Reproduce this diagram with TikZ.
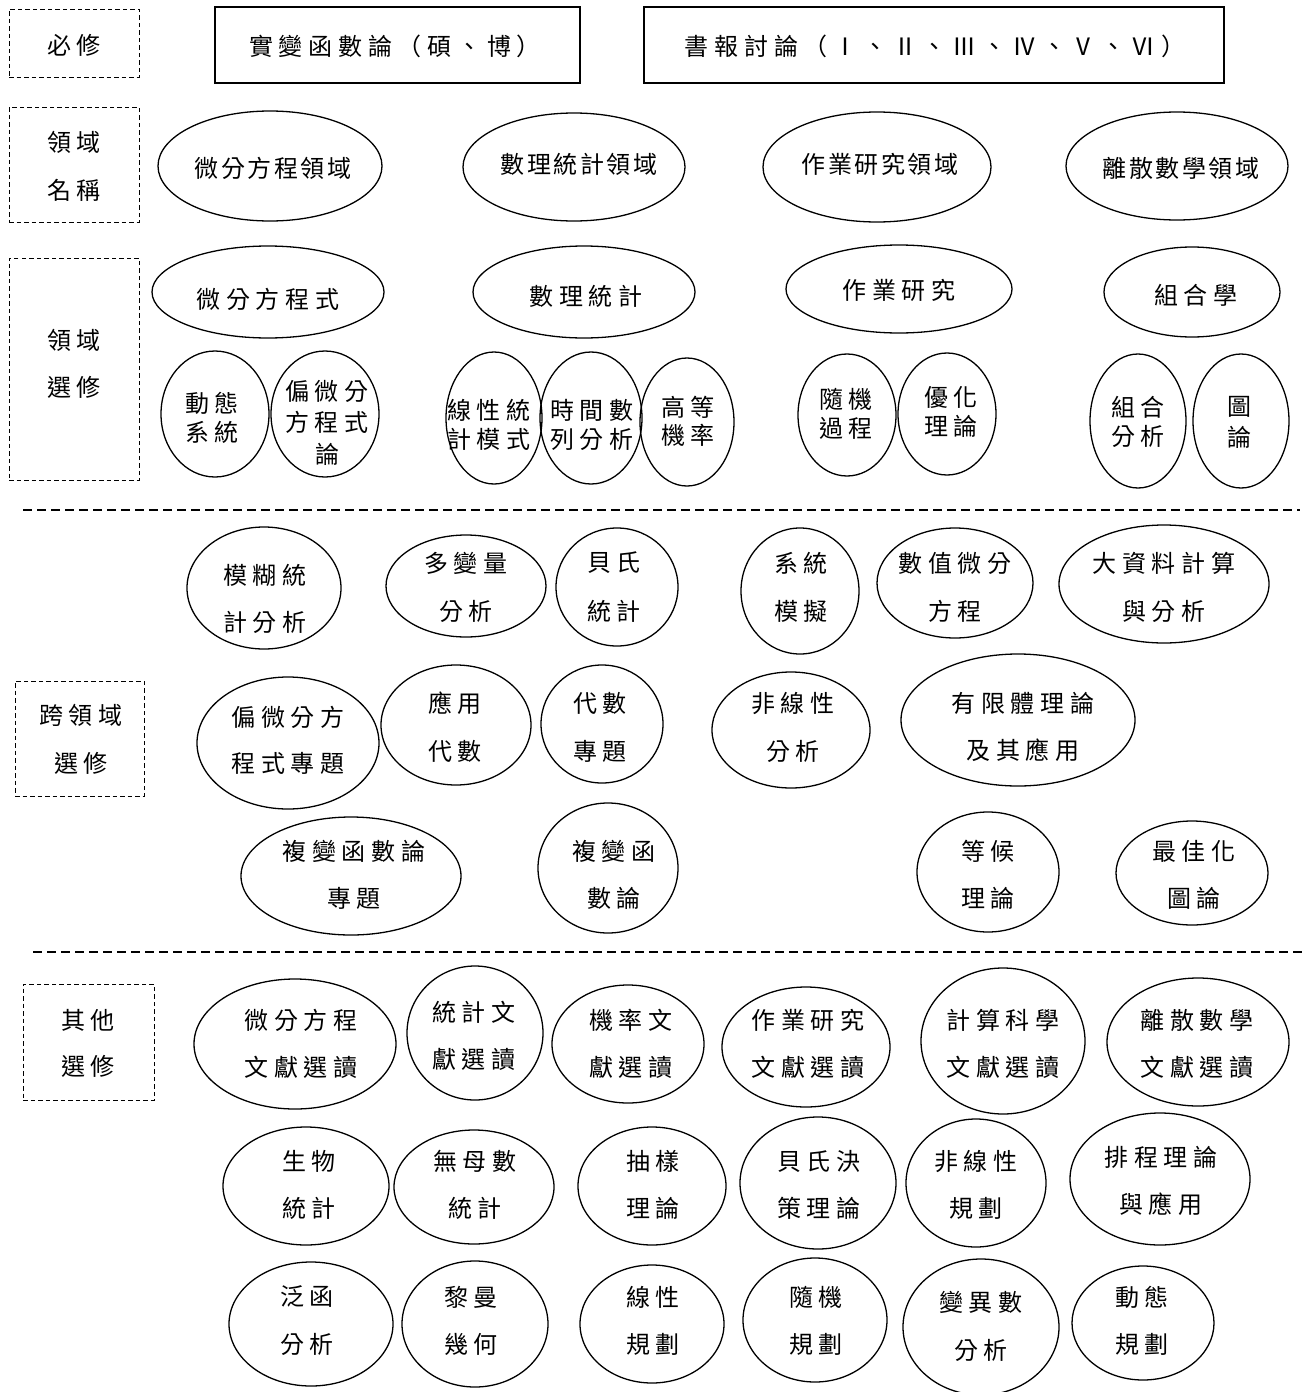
\documentclass[tikz,border=0pt]{standalone}
\usepackage{fontspec}
\setmainfont{Noto Sans CJK TC}[LetterSpace=24]
\newfontfamily\nrw{Noto Sans CJK TC}[LetterSpace=11]
\usetikzlibrary{shapes.geometric}
\tikzset{
  ell/.style={draw, ellipse, line width=1.3pt, inner sep=0pt, outer sep=0pt},
  lbl/.style={inner sep=0pt, font=\fontsize{24}{24}\selectfont, anchor=center},
  solidbox/.style={draw, line width=1.6pt, inner sep=0pt},
  dbox/.style={draw, line width=0.9pt, dash pattern=on 4.5pt off 3pt, inner sep=0pt},
  sepline/.style={line width=2pt, dash pattern=on 9pt off 5pt},
}
\newcommand\crs[9]{%
  \node[ell, minimum width={2*#3}, minimum height={2*#4}] (#1) at (#2) {};
  \node[lbl] (#1a) at (#5,#6) {#7};
  \node[lbl] (#1b) at (#5,#8) {#9};
}
\newcommand\crsone[7]{%
  \node[ell, minimum width={2*#3}, minimum height={2*#4}] (#1) at (#2) {};
  \node[lbl] (#1a) at (#5,#6) {#7};
}
\begin{document}
\begin{tikzpicture}[x=1pt,y=-1pt]
\useasboundingbox (0,0) rectangle (1305,1392);

% ---- boxes ----
\node[dbox, minimum width=130, minimum height=68] (bx1) at (74,43) {};
\node[lbl] (bx1t) at (74,45) {必修};
\node[solidbox, minimum width=365, minimum height=76] (bx2) at (397.5,45) {};
\node[lbl] (bx2t) at (395,46) {實變函數論（碩、博）};
\node[solidbox, minimum width=580, minimum height=76] (bx3) at (934,45) {};
\node[lbl] (bx3t) at (935,46) {書報討論（Ⅰ、Ⅱ、Ⅲ、Ⅳ、Ⅴ、Ⅵ）};

\node[dbox, minimum width=130, minimum height=115] (bx4) at (74,164.5) {};
\node[lbl] (bx4a) at (74,142) {領域};
\node[lbl] (bx4b) at (74,190) {名稱};

\node[dbox, minimum width=130, minimum height=222] (bx5) at (74,369) {};
\node[lbl] (bx5a) at (74,340) {領域};
\node[lbl] (bx5b) at (74,387) {選修};

\node[dbox, minimum width=129, minimum height=115] (bx6) at (79.5,738.5) {};
\node[lbl] (bx6a) at (81,715) {跨領域};
\node[lbl] (bx6b) at (81,763) {選修};

\node[dbox, minimum width=131, minimum height=116] (bx7) at (88.5,1042) {};
\node[lbl] (bx7a) at (88,1020) {其他};
\node[lbl] (bx7b) at (88,1066) {選修};

% ---- separators ----
\coordinate (s1l) at (23,510);
\coordinate (s1r) at (1300,510);
\draw[sepline] (s1l) -- (s1r);
\coordinate (s2l) at (33,952);
\coordinate (s2r) at (1305,952);
\draw[sepline] (s2l) -- (s2r);

% ---- field names ----
\crsone{d1}{270,166}{112}{55}{273}{168}{\nrw 微分方程領域}
\crsone{d2}{574,167}{111}{54}{579}{164}{\nrw 數理統計領域}
\crsone{d3}{877,167}{114}{55}{880}{164}{\nrw 作業研究領域}
\crsone{d4}{1177,166}{111}{54}{1181}{168}{\nrw 離散數學領域}

% ---- field electives ----
\crsone{e1}{268,292}{116}{46}{268}{299}{微分方程式}
\crsone{e2}{584,292}{111}{46}{586}{296}{數理統計}
\crsone{e3}{899,289}{113}{44}{899}{290}{作業研究}
\crsone{e4}{1192,292}{88}{45}{1196}{295}{組合學}

\crs{f1}{215,414}{54}{63}{212}{403}{動態}{432}{系統}
\node[ell, minimum width=108, minimum height=126] (f2) at (325,414) {};
\node[lbl] (f2a) at (327,391) {偏微分};
\node[lbl] (f2b) at (327,422) {方程式};
\node[lbl] (f2c) at (327,454) {論};
\crs{f3}{494,418}{48}{66}{489}{410}{線性統}{439}{計模式}
\crs{f4}{591,418}{51}{66}{592}{410}{時間數}{439}{列分析}
\crs{f5}{687,422}{47}{64}{688}{407}{高等}{435}{機率}
\crs{f6}{847,415}{49}{61}{846}{399}{隨機}{428}{過程}
\crs{f7}{947,414}{49}{61}{951}{397}{優化}{426}{理論}
\crs{f8}{1138,421}{48}{67}{1138}{407}{組合}{436}{分析}
\crs{f9}{1241,421}{48}{67}{1239}{407}{圖}{437}{論}

% ---- cross-field electives ----
\crs{g1}{264,588}{77}{61}{265}{575}{模糊統}{622}{計分析}
\crs{g2}{466,586}{80}{51}{466}{563}{多變量}{611}{分析}
\crs{g3}{617,587}{61}{59}{614}{563}{貝氏}{611}{統計}
\crs{g4}{800,591}{59}{63}{801}{563}{系統}{611}{模擬}
\crs{g5}{955,583}{78}{55}{955}{563}{數值微分}{611}{方程}
\crs{g6}{1164,584}{105}{59}{1164}{563}{大資料計算}{611}{與分析}

\crs{h1}{288,743}{91}{66}{288}{717}{偏微分方}{763}{程式專題}
\crs{h2}{456,725}{75}{60}{455}{703}{應用}{751}{代數}
\crs{h3}{602,724}{61}{59}{600}{703}{代數}{751}{專題}
\crs{h4}{791,730}{79}{58}{793}{703}{非線性}{751}{分析}
\crs{h5}{1018,720}{117}{66}{1023}{703}{有限體理論}{750}{及其應用}

\crs{i1}{351,876}{110}{59}{354}{851}{複變函數論}{898}{專題}
\crs{i2}{608,868}{70}{65}{614}{851}{複變函}{898}{數論}
\crs{i3}{988,872}{71}{60}{988}{851}{等候}{898}{理論}
\crs{i4}{1192,873}{76}{52}{1194}{851}{最佳化}{898}{圖論}

% ---- other electives ----
\crs{j1}{295,1044}{101}{65}{301}{1020}{微分方程}{1067}{文獻選讀}
\crs{j2}{475,1033}{68}{67}{474}{1012}{統計文}{1059}{獻選讀}
\crs{j3}{628,1044}{76}{59}{631}{1020}{機率文}{1067}{獻選讀}
\crs{j4}{806,1047}{84}{60}{808}{1020}{作業研究}{1067}{文獻選讀}
\crs{j5}{1003,1041}{82}{73}{1003}{1020}{計算科學}{1067}{文獻選讀}
\crs{j6}{1198,1042}{91}{64}{1197}{1020}{離散數學}{1067}{文獻選讀}

\crs{k1}{306,1186}{83}{59}{309}{1161}{生物}{1208}{統計}
\crs{k2}{474,1187}{80}{57}{475}{1161}{無母數}{1208}{統計}
\crs{k3}{652,1186}{74}{59}{653}{1161}{抽樣}{1208}{理論}
\crs{k4}{818,1183}{78}{66}{819}{1161}{貝氏決}{1208}{策理論}
\crs{k5}{976,1183}{70}{64}{976}{1161}{非線性}{1208}{規劃}
\crs{k6}{1160,1179}{90}{66}{1161}{1157}{排程理論}{1204}{與應用}

\crs{l1}{311,1324}{82}{62}{307}{1297}{泛函}{1344}{分析}
\crs{l2}{475,1324}{73}{63}{471}{1297}{黎曼}{1344}{幾何}
\crs{l3}{652,1324}{72}{59}{653}{1297}{線性}{1344}{規劃}
\crs{l4}{815,1320}{72}{62}{816}{1297}{隨機}{1344}{規劃}
\crs{l5}{981,1327}{78}{68}{981}{1302}{變異數}{1350}{分析}
\crs{l6}{1143,1323}{71}{57}{1142}{1297}{動態}{1344}{規劃}
\end{tikzpicture}
\end{document}
